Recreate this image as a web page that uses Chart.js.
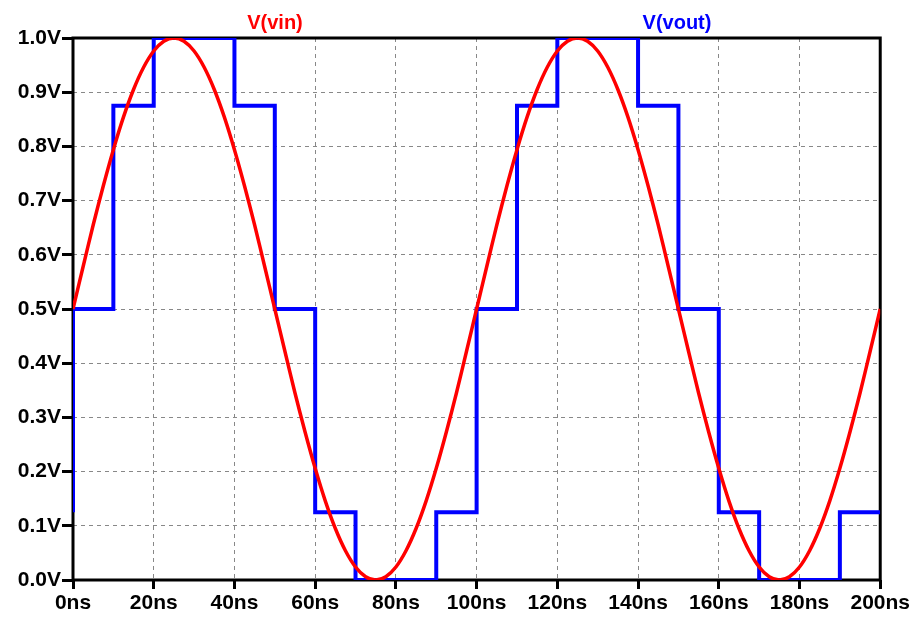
<!DOCTYPE html>
<html lang="en">
<head>
<meta charset="UTF-8">
<title>V(vin) / V(vout)</title>
<script src="https://cdn.jsdelivr.net/npm/chart.js"></script>
<style>
  html, body { margin: 0; padding: 0; background: #fff; }
  #wrap { width: 912px; height: 620px; }
</style>
</head>
<body>
<div id="wrap"><canvas id="plot"></canvas></div>
<script>
// input sine, read every 2.5ns
const vinTime = [
  0, 2.5, 5, 7.5, 10, 12.5, 15, 17.5, 20, 22.5, 25, 27.5, 30, 32.5, 35, 37.5, 40, 42.5, 45, 47.5,
  50, 52.5, 55, 57.5, 60, 62.5, 65, 67.5, 70, 72.5, 75, 77.5, 80, 82.5, 85, 87.5, 90, 92.5, 95, 97.5,
  100, 102.5, 105, 107.5, 110, 112.5, 115, 117.5, 120, 122.5, 125, 127.5, 130, 132.5, 135, 137.5, 140, 142.5, 145, 147.5,
  150, 152.5, 155, 157.5, 160, 162.5, 165, 167.5, 170, 172.5, 175, 177.5, 180, 182.5, 185, 187.5, 190, 192.5, 195, 197.5, 200
];
const vinVolts = [
  0.5, 0.578, 0.655, 0.727, 0.794, 0.854, 0.905, 0.946, 0.976, 0.994,
  1.0, 0.994, 0.976, 0.946, 0.905, 0.854, 0.794, 0.727, 0.655, 0.578,
  0.5, 0.422, 0.345, 0.273, 0.206, 0.146, 0.095, 0.054, 0.024, 0.006,
  0.0, 0.006, 0.024, 0.054, 0.095, 0.146, 0.206, 0.273, 0.345, 0.422,
  0.5, 0.578, 0.655, 0.727, 0.794, 0.854, 0.905, 0.946, 0.976, 0.994,
  1.0, 0.994, 0.976, 0.946, 0.905, 0.854, 0.794, 0.727, 0.655, 0.578,
  0.5, 0.422, 0.345, 0.273, 0.206, 0.146, 0.095, 0.054, 0.024, 0.006,
  0.0, 0.006, 0.024, 0.054, 0.095, 0.146, 0.206, 0.273, 0.345, 0.422,
  0.5
];

// sampled/quantised output, each level held until the next time
const voutTime  = [0, 0, 10, 20, 40, 50, 60, 70, 90, 100, 110, 120, 140, 150, 160, 170, 190, 200];
const voutVolts = [0.125, 0.5, 0.875, 1.0, 0.875, 0.5, 0.125, 0, 0.125, 0.5, 0.875, 1.0, 0.875, 0.5, 0.125, 0, 0.125, 0.125];

const xTicks = [0, 20, 40, 60, 80, 100, 120, 140, 160, 180, 200];
const yTicks = [0, 0.1, 0.2, 0.3, 0.4, 0.5, 0.6, 0.7, 0.8, 0.9, 1.0];

const traceNames = ['V(vin)', 'V(vout)'];
const traceColors = ['#ff0000', '#0000ff'];

const FONT = '"Liberation Sans", Arial, sans-serif';

// black frame round the plot area (drawn under the traces)
const framePlugin = {
  id: 'frame',
  beforeDatasetsDraw(chart) {
    const a = chart.chartArea, c = chart.ctx;
    c.save();
    c.strokeStyle = '#000';
    c.lineWidth = 3;
    c.strokeRect(a.left, a.top, a.right - a.left, a.bottom - a.top);
    c.restore();
  }
};

// trace names above the plot, LTspice style
const namesPlugin = {
  id: 'names',
  afterDraw(chart) {
    const c = chart.ctx;
    const spots = [275, 677];
    c.save();
    c.font = 'bold 20px ' + FONT;
    c.textAlign = 'center';
    c.textBaseline = 'alphabetic';
    traceNames.forEach((n, i) => {
      c.fillStyle = traceColors[i];
      c.fillText(n, spots[i], 29);
    });
    c.restore();
  }
};

new Chart(document.getElementById('plot'), {
  type: 'line',
  data: {
    datasets: [
      {
        label: traceNames[0],
        data: vinTime.map((t, i) => ({ x: t, y: vinVolts[i] })),
        borderColor: traceColors[0],
        borderWidth: 3.5,
        pointRadius: 0,
        tension: 0.3,
        order: 0
      },
      {
        label: traceNames[1],
        data: voutTime.map((t, i) => ({ x: t, y: voutVolts[i] })),
        borderColor: traceColors[1],
        borderWidth: 4,
        pointRadius: 0,
        stepped: 'before',
        order: 1
      }
    ]
  },
  options: {
    responsive: true,
    maintainAspectRatio: false,
    animation: false,
    layout: { padding: { top: 38, right: 31, left: 0, bottom: 0 } },
    plugins: { legend: { display: false }, tooltip: { enabled: false } },
    scales: {
      x: {
        type: 'linear',
        min: 0, max: 200,
        afterBuildTicks: s => { s.ticks = xTicks.map(v => ({ value: v })); },
        ticks: {
          callback: v => v + 'ns',
          color: '#000',
          font: { family: FONT, size: 21, weight: 'bold' },
          padding: 2,
          maxRotation: 0,
          autoSkip: false
        },
        grid: {
          color: '#888',
          lineWidth: 1,
          tickColor: '#000',
          tickWidth: 3,
          tickLength: 9,
          tickBorderDash: []
        },
        border: { display: false, dash: [4, 4] },
        afterFit: s => { s.height = 40; }
      },
      y: {
        min: 0, max: 1,
        afterBuildTicks: s => { s.ticks = yTicks.map(v => ({ value: v })); },
        ticks: {
          callback: v => v.toFixed(1) + 'V',
          color: '#000',
          font: { family: FONT, size: 21, weight: 'bold' },
          padding: 1,
          autoSkip: false
        },
        grid: {
          color: '#888',
          lineWidth: 1,
          tickColor: '#000',
          tickWidth: 3,
          tickLength: 11,
          tickBorderDash: []
        },
        border: { display: false, dash: [4, 4] },
        afterFit: s => { s.width = 73; }
      }
    }
  },
  plugins: [framePlugin, namesPlugin]
});
</script>
</body>
</html>
